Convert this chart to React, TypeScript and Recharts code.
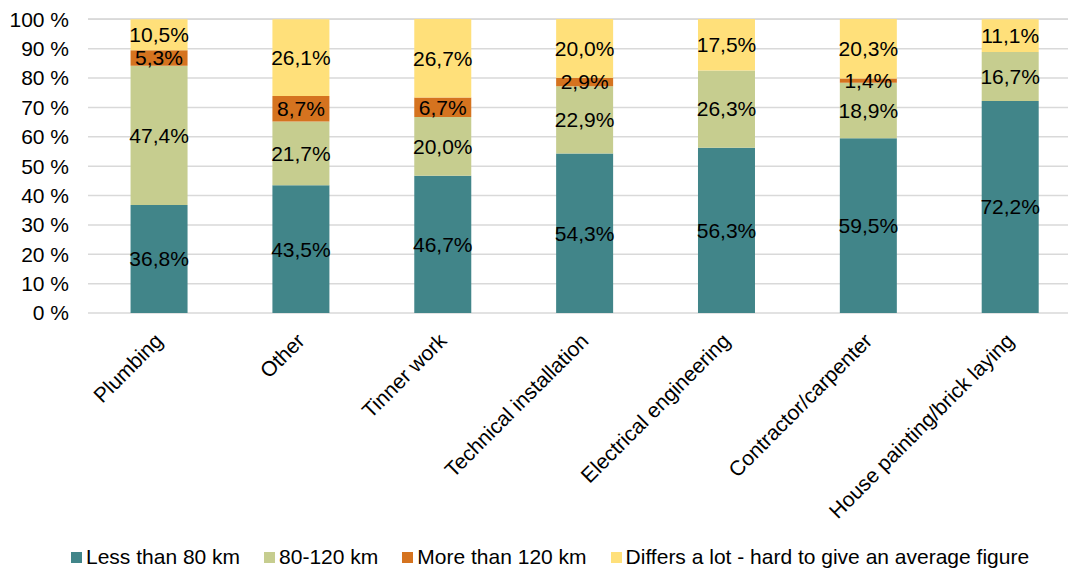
import React from "react";
import { Bar, BarChart, CartesianGrid, LabelList, XAxis, YAxis } from "recharts";

const trades = [
  "Plumbing",
  "Other",
  "Tinner work",
  "Technical installation",
  "Electrical engineering",
  "Contractor/carpenter",
  "House painting/brick laying",
];

const under80 = [36.8, 43.5, 46.7, 54.3, 56.3, 59.5, 72.2];
const from80to120 = [47.4, 21.7, 20.0, 22.9, 26.3, 18.9, 16.7];
const over120 = [5.3, 8.7, 6.7, 2.9, 0, 1.4, 0];
const differs = [10.5, 26.1, 26.7, 20.0, 17.5, 20.3, 11.1];

const yTicks = [0, 10, 20, 30, 40, 50, 60, 70, 80, 90, 100];

const series = [
  { key: "under80", name: "Less than 80 km", color: "#418589" },
  { key: "from80to120", name: "80-120 km", color: "#C6CD8F" },
  { key: "over120", name: "More than 120 km", color: "#D5731F" },
  { key: "differs", name: "Differs a lot - hard to give an average figure", color: "#FFE07A" },
];

const rows = trades.map((trade, i) => ({
  trade,
  under80: under80[i],
  from80to120: from80to120[i],
  over120: over120[i],
  differs: differs[i],
}));

const FONT = "'Liberation Sans', Arial, sans-serif";
const SIZE = 21;

// zero shares get no label
const fmt = (v: any) => (v ? `${Number(v).toFixed(1).replace(".", ",")}%` : "");

function TradeTick(props: any) {
  const { x, y, payload } = props;
  return (
    <text
      x={x}
      y={y}
      transform={`rotate(-45, ${x}, ${y})`}
      textAnchor="end"
      dy="0.35em"
      fontSize={SIZE}
      fill="#000"
      fontFamily={FONT}
    >
      {payload.value}
    </text>
  );
}

export default function App() {
  return (
    <div
      style={{
        position: "absolute",
        left: 0,
        top: 0,
        width: 1068,
        height: 574,
        overflow: "hidden",
        background: "#fff",
        fontFamily: FONT,
      }}
    >
      <BarChart
        width={1082}
        height={574}
        data={rows}
        margin={{ top: 19, right: 1, bottom: 0, left: 0 }}
        barCategoryGap="30%"
      >
        <CartesianGrid vertical={false} stroke="#D9D9D9" strokeWidth={1.5} />
        <XAxis
          dataKey="trade"
          axisLine={false}
          tickLine={false}
          interval={0}
          height={261}
          tickSize={0}
          tickMargin={24}
          tick={<TradeTick />}
        />
        <YAxis
          domain={[0, 100]}
          ticks={yTicks}
          interval={0}
          width={88}
          axisLine={false}
          tickLine={false}
          tickSize={0}
          tickMargin={19}
          tickFormatter={(v: number) => `${v} %`}
          tick={{ fill: "#000", fontSize: SIZE, fontFamily: FONT }}
        />
        {series.map((s) => (
          <Bar key={s.key} dataKey={s.key} name={s.name} stackId="a" fill={s.color} isAnimationActive={false}>
            <LabelList
              dataKey={s.key}
              position="center"
              formatter={fmt}
              fill="#000"
              fontSize={SIZE}
              fontFamily={FONT}
            />
          </Bar>
        ))}
      </BarChart>
      <div
        style={{
          position: "absolute",
          left: 71,
          top: 545,
          display: "flex",
          alignItems: "center",
          fontSize: SIZE,
          color: "#000",
          whiteSpace: "nowrap",
        }}
      >
        {series.map((s) => (
          <div key={s.key} style={{ display: "flex", alignItems: "center", marginRight: 24 }}>
            <span style={{ width: 11, height: 11, background: s.color, marginRight: 4 }} />
            <span>{s.name}</span>
          </div>
        ))}
      </div>
    </div>
  );
}
